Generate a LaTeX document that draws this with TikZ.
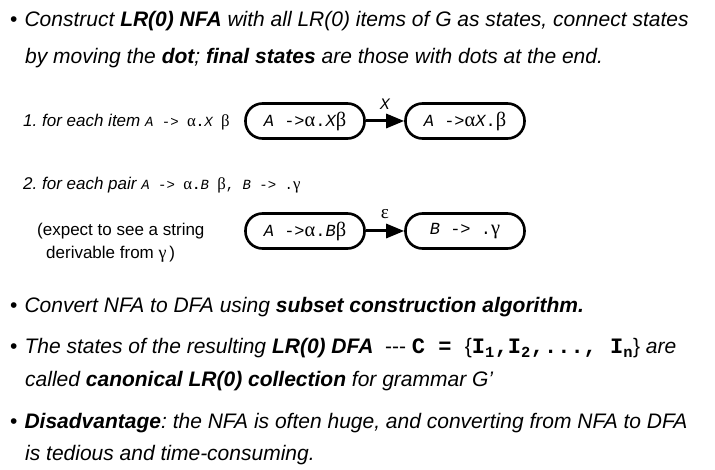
\documentclass[tikz,border=0pt]{standalone}
\usepackage{fontspec}
\setmainfont{Liberation Sans}
\newfontfamily\mono{Liberation Mono}
\newfontfamily\grk[Scale=1.2]{Liberation Serif}
\usetikzlibrary{arrows.meta}

\newcommand{\gkalpha}{{\grk\upshape α}}
\newcommand{\gkbeta}{{\grk\upshape β}}
\newcommand{\gkgamma}{{\grk\upshape γ}}
\newcommand{\gkeps}{{\grk\upshape ε}}
\newcommand{\mi}[1]{{\mono\itshape #1}}
\newcommand{\itemcode}{\fontsize{14}{16}\selectfont\mono\upshape}
\frenchspacing

\begin{document}
\begin{tikzpicture}[x=1pt,y=-1pt,
   txt/.style={anchor=base west,inner sep=0pt,font=\fontsize{21}{24}\selectfont\itshape},
   sub/.style={anchor=base west,inner sep=0pt,font=\fontsize{17}{20}\selectfont}]
   \useasboundingbox (0,0) rectangle (715,470);
   % bullets and text
   \node[txt] (b1)  at (10,27)  {\upshape•\hspace{7pt}\itshape Construct \textbf{LR(0) NFA} with all LR(0) items of G as states, connect states};
   \node[txt] (b1a) at (25,64)  {by moving the \textbf{dot}; \textbf{final states} are those with dots at the end.};
   \node[sub] (i1)  at (23,127) {\itshape 1. for each item\ {\itemcode\mi{A} -> \gkalpha{\bfseries.}\mi{X} \gkbeta}};
   \node[sub] (i2)  at (23,190) {\itshape 2. for each pair {\itemcode\mi{A} -> \gkalpha{\bfseries.}\mi{B} \gkbeta, \mi{B} -> .\gkgamma}};
   \node[sub] (p1)  at (37,236) {(expect to see a string};
   \node[sub] (p2)  at (46,259) {derivable from {\fontsize{15}{17}\selectfont\gkgamma}\,)};
   \node[txt] (b3)  at (10,313) {\upshape•\hspace{7pt}\itshape Convert NFA to DFA using \textbf{subset construction algorithm.}};
   \node[txt] (b4)  at (10,354) {\upshape•\hspace{7pt}\itshape The states of the resulting \textbf{LR(0) DFA}\ \ \upshape -{}-{}-\ {\fontsize{22}{24}\selectfont\mono\bfseries C\ =\ }\{{\fontsize{22}{24}\selectfont\mono\bfseries I\textsubscript{1},I\textsubscript{2},...,\ I\textsubscript{n}}\} \itshape are};
   \node[txt] (b4a) at (25,386) {called \textbf{canonical LR(0) collection} for grammar G’};
   \node[txt] (b5)  at (10,428) {\upshape•\hspace{7pt}\itshape\textbf{Disadvantage}: the NFA is often huge, and converting from NFA to DFA};
   \node[txt] (b5a) at (25,460) {is tedious and time-consuming.};
   % item states
   \begin{scope}[every node/.style={draw=black,line width=2.6pt,rounded corners=17pt,
      minimum width=119pt,minimum height=35pt,inner sep=1pt,
      font=\fontsize{17}{20}\selectfont\mono}]
    \node (s1) at (305,121) {\mi{A} ->\gkalpha.\mi{X}\gkbeta};
    \node (s2) at (465,121) {\mi{A} ->\gkalpha\mi{X}.\gkbeta};
    \node (s3) at (305,231) {\mi{A} ->\gkalpha.\mi{B}\gkbeta};
    \node (s4) at (465,231) {\mi{B} -> .\gkgamma};
   \end{scope}
   \begin{scope}[every edge/.style={draw=black,line width=3pt,-{Triangle[length=18pt,width=14pt]}},
      every node/.style={font=\fontsize{16}{19}\selectfont,above=7pt}]
    \draw (s1) edge node{\mi{X}} (s2);
    \draw (s3) edge node{\gkeps} (s4);
   \end{scope}
\end{tikzpicture}
\end{document}
